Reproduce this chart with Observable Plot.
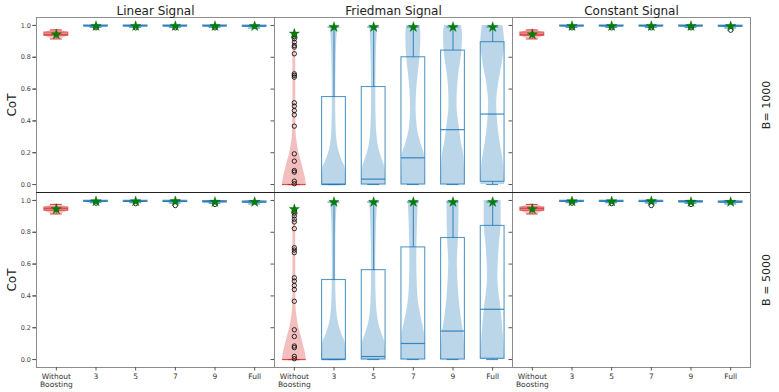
<!DOCTYPE html>
<html><head><meta charset="utf-8">
<script src="https://cdn.jsdelivr.net/npm/d3@7"></script>
<script src="https://cdn.jsdelivr.net/npm/@observablehq/plot@0.6"></script>
<style>body{margin:0;background:#fff}</style>
</head><body><div id="chart"></div>
<script>
const signals = ["Linear Signal", "Friedman Signal", "Constant Signal"];
const budgets = ["B= 1000", "B = 5000"];
const methods = ["Without\nBoosting", "3", "5", "7", "9", "Full"];
const yTicks = [0, 0.2, 0.4, 0.6, 0.8, 1.0];

// box stats per method: [whiskerLow, q1, median, q3, whiskerHigh]
const linearB1000Box = [[0.915,0.935,0.945,0.955,0.972],[0.988,0.994,0.997,1.0,1.0],[0.988,0.994,0.997,1.0,1.0],[0.988,0.994,0.997,1.0,1.0],[0.988,0.994,0.997,1.0,1.0],[0.984,0.992,0.996,0.999,1.0]];
const linearB5000Box = [[0.915,0.935,0.948,0.955,0.975],[0.986,0.991,0.995,0.998,1.0],[0.986,0.991,0.995,0.998,1.0],[0.984,0.99,0.995,0.998,1.0],[0.982,0.988,0.992,0.996,1.0],[0.978,0.986,0.99,0.994,0.998]];
const friedmanB1000Box = [[0,0,0,0,0],[0,0,0,0.55,0.99],[0,0,0.034,0.613,0.99],[0,0,0.168,0.80,0.99],[0,0,0.345,0.842,0.99],[0,0.017,0.443,0.895,0.99]];
const friedmanB5000Box = [[0,0,0,0,0],[0,0,0,0.50,0.99],[0,0,0.019,0.562,0.99],[0,0,0.101,0.705,0.99],[0,0,0.179,0.764,0.99],[0,0.005,0.316,0.84,0.99]];
const constantB1000Box = [[0.915,0.935,0.945,0.955,0.972],[0.988,0.994,0.997,1.0,1.0],[0.988,0.994,0.997,1.0,1.0],[0.988,0.994,0.997,1.0,1.0],[0.988,0.994,0.997,1.0,1.0],[0.984,0.992,0.996,0.999,1.0]];
const constantB5000Box = [[0.915,0.935,0.948,0.955,0.975],[0.986,0.991,0.995,0.998,1.0],[0.986,0.991,0.995,0.998,1.0],[0.984,0.99,0.995,0.998,1.0],[0.982,0.988,0.992,0.996,1.0],[0.978,0.986,0.99,0.994,0.998]];

// green star marker per method
const linearB1000Star = [0.943,0.996,0.996,0.996,0.996,0.995];
const linearB5000Star = [0.945,0.994,0.994,0.995,0.99,0.99];
const friedmanB1000Star = [0.948,0.99,0.99,0.99,0.99,0.99];
const friedmanB5000Star = [0.945,0.99,0.99,0.99,0.99,0.99];
const constantB1000Star = [0.943,0.996,0.996,0.996,0.996,0.995];
const constantB5000Star = [0.945,0.994,0.994,0.995,0.99,0.99];

// outliers per method
const linearB1000Out = [[],[0.985],[0.985],[0.985],[0.985],[]];
const linearB5000Out = [[],[0.983],[0.98],[0.968],[0.975],[]];
const friedmanB1000Out = [[0.005,0.021,0.078,0.088,0.147,0.193,0.367,0.438,0.465,0.493,0.514,0.675,0.686,0.696,0.822,0.864,0.874,0.895,0.916,0.93,0.942],[],[],[],[],[]];
const friedmanB5000Out = [[0.005,0.02,0.075,0.085,0.145,0.187,0.366,0.44,0.465,0.493,0.514,0.672,0.688,0.703,0.823,0.865,0.882,0.903,0.92,0.932,0.94],[],[],[],[],[]];
const constantB1000Out = [[],[0.985],[0.985],[0.985],[0.985],[0.97]];
const constantB5000Out = [[],[0.983],[0.98],[0.968],[0.975],[]];

// violin profiles: [value, relative density width]
const linearB1000Violin = [
  [[0.912,0.15],[0.925,0.7],[0.94,1],[0.955,0.9],[0.968,0.45],[0.976,0.1]],
  [[0.984,0.2],[0.99,0.6],[0.996,1],[1.0,0.8]],
  [[0.984,0.2],[0.99,0.6],[0.996,1],[1.0,0.8]],
  [[0.984,0.2],[0.99,0.6],[0.996,1],[1.0,0.8]],
  [[0.984,0.2],[0.99,0.6],[0.996,1],[1.0,0.8]],
  [[0.978,0.1],[0.988,0.5],[0.995,1],[1.0,0.8]]
];
const linearB5000Violin = [
  [[0.91,0.15],[0.925,0.7],[0.945,1],[0.958,0.9],[0.97,0.45],[0.978,0.1]],
  [[0.982,0.2],[0.989,0.6],[0.995,1],[1.0,0.7]],
  [[0.98,0.2],[0.988,0.6],[0.995,1],[1.0,0.7]],
  [[0.97,0.1],[0.985,0.5],[0.995,1],[1.0,0.7]],
  [[0.975,0.15],[0.985,0.6],[0.992,1],[1.0,0.6]],
  [[0.975,0.15],[0.984,0.6],[0.99,1],[0.998,0.6]]
];
const friedmanB1000Violin = [
  [[0,1],[0.04,0.93],[0.08,0.8],[0.14,0.6],[0.2,0.38],[0.27,0.22],[0.33,0.14],[0.5,0.12],[0.7,0.12],[0.9,0.1],[0.95,0.04]],
  [[0,1],[0.1,0.94],[0.16,0.63],[0.22,0.37],[0.29,0.23],[0.37,0.17],[0.54,0.14],[0.75,0.17],[0.96,0.28],[1.0,0.34]],
  [[0,1],[0.1,0.95],[0.16,0.7],[0.22,0.45],[0.29,0.3],[0.37,0.22],[0.54,0.18],[0.75,0.2],[0.96,0.3],[1.0,0.34]],
  [[0,1],[0.18,0.94],[0.26,0.63],[0.35,0.34],[0.48,0.23],[0.6,0.29],[0.71,0.43],[0.81,0.57],[0.94,0.63],[1.0,0.57]],
  [[0,1],[0.18,0.91],[0.26,0.71],[0.37,0.51],[0.5,0.34],[0.6,0.37],[0.71,0.51],[0.81,0.71],[0.94,0.8],[1.0,0.71]],
  [[0,1],[0.16,0.86],[0.26,0.63],[0.38,0.43],[0.51,0.34],[0.64,0.51],[0.76,0.8],[0.89,1],[1.0,0.86]]
];
const friedmanB5000Violin = [
  [[0,1],[0.04,0.93],[0.08,0.8],[0.14,0.6],[0.2,0.38],[0.27,0.22],[0.33,0.14],[0.5,0.12],[0.7,0.12],[0.9,0.1],[0.95,0.04]],
  [[0,1],[0.1,0.95],[0.16,0.65],[0.22,0.4],[0.29,0.25],[0.37,0.18],[0.54,0.14],[0.75,0.15],[0.96,0.25],[1.0,0.3]],
  [[0,1],[0.1,0.95],[0.16,0.7],[0.22,0.45],[0.29,0.3],[0.37,0.22],[0.54,0.17],[0.75,0.2],[0.96,0.3],[1.0,0.34]],
  [[0,1],[0.15,0.95],[0.25,0.7],[0.35,0.45],[0.45,0.34],[0.63,0.29],[0.84,0.34],[1.0,0.43]],
  [[0,1],[0.15,0.92],[0.25,0.72],[0.35,0.55],[0.45,0.45],[0.6,0.36],[0.75,0.45],[0.9,0.5],[1.0,0.5]],
  [[0,1],[0.15,0.9],[0.31,0.71],[0.52,0.43],[0.73,0.57],[0.85,0.71],[1.0,0.71]]
];
const constantB1000Violin = linearB1000Violin.map(p => p.slice());
const constantB5000Violin = linearB5000Violin.map(p => p.slice());

const panelDefs = [
  [signals[0], budgets[0], linearB1000Box, linearB1000Star, linearB1000Out, linearB1000Violin],
  [signals[0], budgets[1], linearB5000Box, linearB5000Star, linearB5000Out, linearB5000Violin],
  [signals[1], budgets[0], friedmanB1000Box, friedmanB1000Star, friedmanB1000Out, friedmanB1000Violin],
  [signals[1], budgets[1], friedmanB5000Box, friedmanB5000Star, friedmanB5000Out, friedmanB5000Violin],
  [signals[2], budgets[0], constantB1000Box, constantB1000Star, constantB1000Out, constantB1000Violin],
  [signals[2], budgets[1], constantB5000Box, constantB5000Star, constantB5000Out, constantB5000Violin]
];

const violinRows = [], boxRows = [], outRows = [], starRows = [];
panelDefs.forEach(([signal, B, box, star, out, vio]) => {
  methods.forEach((m, i) => {
    const [lo, q1, med, q3, hi] = box[i];
    boxRows.push({signal, B, i, lo, q1, med, q3, hi});
    starRows.push({signal, B, i, v: star[i]});
    out[i].forEach(v => outRows.push({signal, B, i, v}));
    vio[i].forEach(([v, w]) => violinRows.push({signal, B, i, v, w, id: signal + "|" + B + "|" + i}));
  });
});

const HALF = 0.3, CAP = 0.15;
const RED = "#d62728", BLUE = "#1f77b4";
const col = d => d.i === 0 ? RED : BLUE;
const font = "DejaVu Sans, sans-serif";

const chart = Plot.plot({
  width: 779, height: 392,
  marginLeft: 35, marginRight: 28, marginTop: 17, marginBottom: 25,
  style: {fontFamily: font, background: "#fff"},
  fx: {domain: signals, padding: 0, axis: null},
  fy: {domain: budgets, padding: 0, axis: null},
  x: {domain: [-0.5, 5.5], axis: null},
  y: {domain: [-0.05, 1.05], axis: null},
  color: {type: "identity"},
  marks: [
    Plot.areaX(violinRows, {fx: "signal", fy: "B", y: "v", x1: d => d.i - HALF * d.w, x2: d => d.i + HALF * d.w, z: "id", fill: col, fillOpacity: 0.3, curve: "monotone-y"}),
    Plot.rect(boxRows, {fx: "signal", fy: "B", x1: d => d.i - HALF, x2: d => d.i + HALF, y1: "q1", y2: "q3", fill: "none", stroke: col, strokeOpacity: 0.75, strokeWidth: 1.1}),
    Plot.ruleX(boxRows, {fx: "signal", fy: "B", x: "i", y1: "q3", y2: "hi", stroke: col, strokeOpacity: 0.8, strokeWidth: 1.1}),
    Plot.ruleX(boxRows, {fx: "signal", fy: "B", x: "i", y1: "lo", y2: "q1", stroke: col, strokeOpacity: 0.8, strokeWidth: 1.1}),
    Plot.ruleY(boxRows, {fx: "signal", fy: "B", y: "hi", x1: d => d.i - CAP, x2: d => d.i + CAP, stroke: col, strokeOpacity: 0.8, strokeWidth: 1.1}),
    Plot.ruleY(boxRows, {fx: "signal", fy: "B", y: "lo", x1: d => d.i - CAP, x2: d => d.i + CAP, stroke: col, strokeOpacity: 0.8, strokeWidth: 1.1}),
    Plot.ruleY(boxRows, {fx: "signal", fy: "B", y: "med", x1: d => d.i - HALF, x2: d => d.i + HALF, stroke: col, strokeOpacity: 0.85, strokeWidth: 1.2}),
    Plot.dot(outRows, {fx: "signal", fy: "B", x: "i", y: "v", r: 2.2, stroke: "#000", fill: "none", strokeWidth: 0.8}),
    Plot.dot(starRows, {fx: "signal", fy: "B", x: "i", y: "v", symbol: "star", r: 3.2, fill: "#008000", stroke: "#006400", strokeWidth: 0.4}),
    Plot.frame({stroke: "#8c8c8c"}),
    Plot.ruleY([-0.05], {fy: () => budgets[0], stroke: "#222", strokeWidth: 1}),
    Plot.axisY({ticks: yTicks, tickSize: 3.5, tickFormat: () => "", label: null, stroke: "#555", facetAnchor: null}),
    Plot.axisY({ticks: yTicks, tickSize: 3.5, tickPadding: 2, tickFormat: d3.format(".1f"), label: null, fontSize: 6.5, fill: "#444", stroke: "#555"}),
    Plot.axisX({ticks: [0, 1, 2, 3, 4, 5], tickSize: 3.5, tickPadding: 2, tickFormat: i => methods[i], label: null, fontSize: 7.5, fill: "#333", stroke: "#555", lineHeight: 1.1}),
    Plot.text(signals, {fx: d => d, fy: () => budgets[0], text: d => d, frameAnchor: "top", lineAnchor: "bottom", dy: -3, fontSize: 12, fill: "#222"}),
    Plot.text(budgets, {fy: d => d, fx: () => signals[0], text: () => "CoT", frameAnchor: "left", textAnchor: "middle", lineAnchor: "middle", rotate: -90, dx: -24, fontSize: 12, fill: "#222"}),
    Plot.text(budgets, {fy: d => d, fx: () => signals[2], text: d => d, frameAnchor: "right", textAnchor: "middle", lineAnchor: "middle", rotate: -90, dx: 16, fontSize: 11, fill: "#222"})
  ]
});
document.getElementById("chart").appendChild(chart);
</script>
</body></html>
